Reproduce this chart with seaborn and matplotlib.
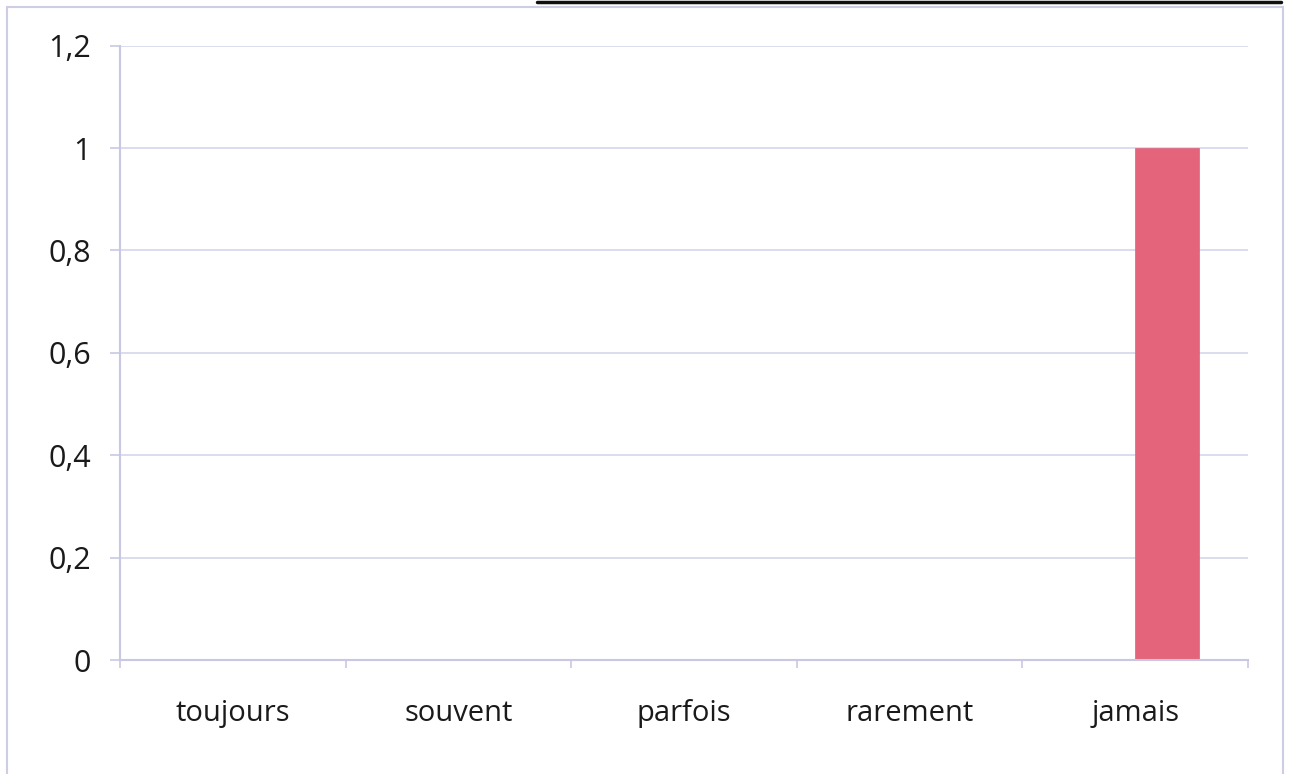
import matplotlib
matplotlib.use("Agg")
import matplotlib.pyplot as plt
import seaborn as sns
import pandas as pd
import numpy as np
from matplotlib.patches import Rectangle
from matplotlib.lines import Line2D

categories = ["toujours", "souvent", "parfois", "rarement", "jamais"]
series_names = ["Série 1", "Série 2"]
series1 = [0, 0, 0, 0, 0]
series2 = [0, 0, 0, 0, 1]
yticks = [0, 0.2, 0.4, 0.6, 0.8, 1.0, 1.2]
ytick_labels = ["0", "0,2", "0,4", "0,6", "0,8", "1", "1,2"]

df = pd.DataFrame({
    "cat": categories * 2,
    "serie": [series_names[0]] * 5 + [series_names[1]] * 5,
    "val": series1 + series2,
})

sns.set_theme(style="white")
plt.rcParams["font.family"] = ["Open Sans", "DejaVu Sans"]

fig = plt.figure(figsize=(12.9, 7.74), dpi=100)
ax = fig.add_axes([120 / 1290, 1 - 660 / 774, (1248 - 120) / 1290, (660 - 45.6) / 774])

sns.barplot(data=df, x="cat", y="val", hue="serie", order=categories,
            palette=["#E4647B", "#E4647B"], width=0.57, dodge=True,
            saturation=1, ax=ax, legend=False, edgecolor="#E0607A", linewidth=0.5)

ax.set_xlim(-0.5, 4.5)
ax.set_ylim(0, 1.2)
ax.set_yticks(yticks)
ax.set_yticklabels(ytick_labels)
ax.set_xlabel("")
ax.set_ylabel("")

grid_c = "#D6D6EC"
ax.yaxis.grid(True, color=grid_c, linewidth=1.2)
ax.set_axisbelow(True)
for s in ["top", "right"]:
    ax.spines[s].set_visible(False)
for s in ["left", "bottom"]:
    ax.spines[s].set_color("#C8C8E4")
    ax.spines[s].set_linewidth(1.5)

ax.set_xticks(np.arange(-0.5, 5, 1), minor=True)
ax.tick_params(axis="x", which="major", length=0, pad=28, labelsize=21, labelcolor="#1a1a1a")
ax.tick_params(axis="x", which="minor", length=6, width=1.2, color="#C8C8E4", direction="out", bottom=True)
ax.tick_params(axis="y", which="major", length=7, width=1.2, color="#C8C8E4", direction="out",
               left=True, pad=14, labelsize=22, labelcolor="#1a1a1a")

# outer chart frame
fig.patches.append(Rectangle((7 / 1290, -0.01), (1283 - 7) / 1290, 1 - 7 / 774 + 0.01,
                             transform=fig.transFigure, fill=False,
                             edgecolor="#CDCDE6", linewidth=1.5))
# underline of cut-off title at the top
fig.lines.append(Line2D([537 / 1290, 1281 / 1290], [1 - 2 / 774, 1 - 2 / 774],
                        transform=fig.transFigure, color="#111111", linewidth=2.5))

fig.savefig("out.png", dpi=100)
